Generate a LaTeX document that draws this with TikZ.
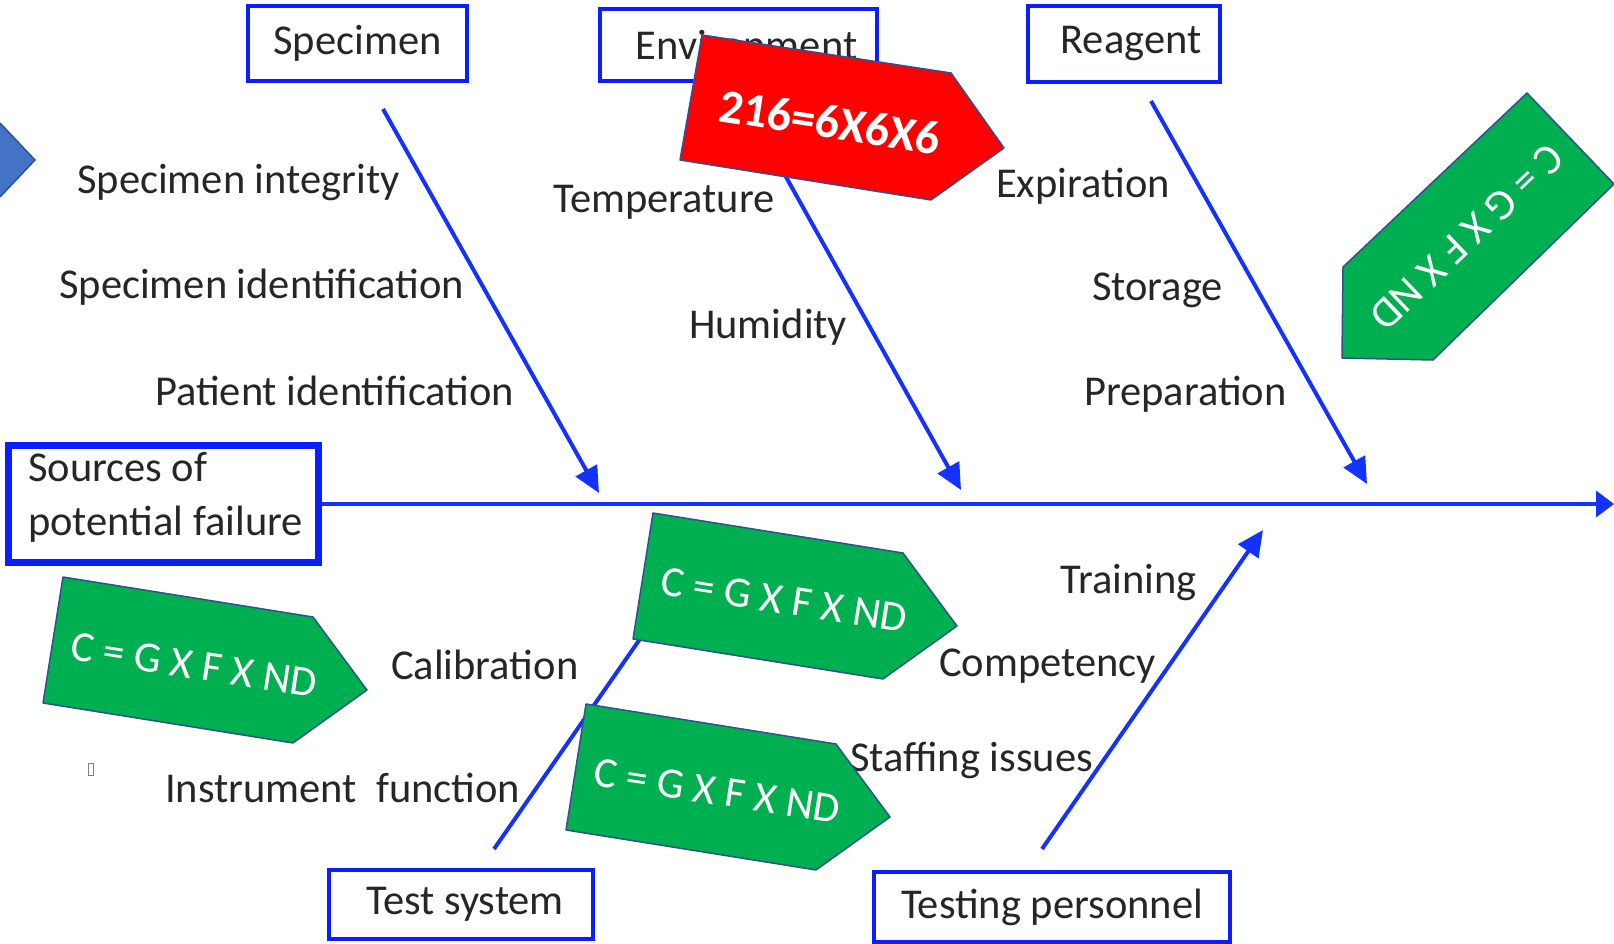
\documentclass[tikz,border=0pt]{standalone}
\usepackage{fontspec}
\setmainfont{Carlito}
\usetikzlibrary{arrows.meta}
\definecolor{boxblue}{HTML}{0A1EFF}
\definecolor{lineblue}{HTML}{1432FF}
\definecolor{tagedge}{HTML}{2F528F}
\definecolor{taggreen}{HTML}{00B050}
\definecolor{tagred}{HTML}{FF0000}
\definecolor{tipblue}{HTML}{4472C4}
\definecolor{ink}{HTML}{262626}

\begin{document}
\begin{tikzpicture}[
    x=1pt, y=-1pt,
    every node/.style={font=\fontsize{42.5}{54}\selectfont, text=ink},
    catbox/.style={draw=boxblue, line width=4pt, inner sep=0pt},
    cause/.style={anchor=west, inner sep=0pt, yshift=-3pt},
    bone/.style={draw=lineblue, line width=4pt, -{Triangle[length=26pt, width=24pt]}},
    tag/.style={fill=taggreen, draw=tagedge, line width=1.5pt, line join=round},
    tagtext/.style={text=white, inner sep=0pt, font=\fontsize{43}{50}\selectfont}
]
\useasboundingbox (0,0) rectangle (1614,944);

% Head box
\node[catbox, line width=7pt, minimum width=310pt, minimum height=117pt] (src) at (163.5,504) {};
\node[align=left, inner sep=0pt, anchor=west] (srctext) at (28,497) {Sources of\\potential failure};

% Category boxes
\node[catbox, minimum width=219pt, minimum height=75pt] (specimen) at (357.5,43.5) {Specimen};
\node[catbox, minimum width=277pt, minimum height=72pt, text depth=0pt] (environment) at (738.5,45) {\hspace*{16pt}Environment};
\node[catbox, minimum width=192pt, minimum height=76pt] (reagent) at (1124,44) {\hspace*{14pt}Reagent};
\node[catbox, minimum width=264pt, minimum height=69pt] (testsys) at (461,904.5) {\hspace*{8pt}Test system};
\node[catbox, minimum width=356pt, minimum height=70pt] (personnel) at (1052,907) {Testing personnel};

% Causes
\node[cause] (sp1) at (77,180) {Specimen integrity};
\node[cause] (sp2) at (59,284) {Specimen identification};
\node[cause] (sp3) at (155,388) {Patient identification};
\node[cause] (en1) at (553,199) {Temperature};
\node[cause] (en2) at (689,324) {Humidity};
\node[cause] (re1) at (996,183) {Expiration};
\node[cause] (re2) at (1092,287) {Storage};
\node[cause] (re3) at (1084,391) {Preparation};
\node[cause] (ts1) at (391,662) {Calibration};
\node[cause] (ts2) at (165,785) {Instrument\ \ function};
\node[cause] (tp1) at (1060,580) {Training};
\node[cause] (tp2) at (939,663) {Competency};
\node[cause] (tp3) at (850,757) {Staffing issues};

% Bones
\coordinate (spineend) at (1614,504);
\coordinate (spA) at (383,109);   \coordinate (spB) at (599,493);
\coordinate (enA) at (748,109);   \coordinate (enB) at (961,490);
\coordinate (reA) at (1151,101);  \coordinate (reB) at (1367,484);
\coordinate (tsA) at (494,849);   \coordinate (tsB) at (715,531);
\coordinate (tpA) at (1042,849);  \coordinate (tpB) at (1263,530);
\draw[bone, -{Triangle[length=18pt, width=26pt]}] (src.east) -- (spineend);
\draw[bone] (spA) -- (spB);
\draw[bone] (enA) -- (enB);
\draw[bone] (reA) -- (reB);
\draw[bone] (tsA) -- (tsB);
\draw[bone] (tpA) -- (tpB);

% Stray glyph box
\draw[gray, line width=0.8pt] (88,763) rectangle (93,775);

% Tags
\draw[fill=tipblue, draw=tagedge, line width=1.5pt] (0,123) -- (35,160) -- (0,197);
\draw[tag, fill=tagred] (702,35) -- (951,73) -- (1004,148) -- (931,200) -- (680,160) -- cycle;
\node[tagtext, rotate=-8.7, font=\bfseries\fontsize{48}{56}\selectfont] (redtag) at (830,122) {216=6X6X6};

\draw[tag, shift={(63,577)}] (0,0) -- (250,40) -- (304,113) -- (230,166) -- (-20,126) -- cycle;
\node[tagtext, rotate=-8.7] (tagA) at (194,665) {C = G X F X ND};
\draw[tag, shift={(653,513)}] (0,0) -- (250,40) -- (304,113) -- (230,166) -- (-20,126) -- cycle;
\node[tagtext, rotate=-8.7] (tagB) at (784,600) {C = G X F X ND};
\draw[tag, shift={(586,704)}] (0,0) -- (250,40) -- (304,113) -- (230,166) -- (-20,126) -- cycle;
\node[tagtext, rotate=-8.7] (tagC) at (717,791) {C = G X F X ND};

\draw[tag] (1527,93) -- (1614,184) -- (1433,360) -- (1342,358) -- (1343,267) -- cycle;
\node[tagtext, rotate=-136.3] (tagD) at (1467,237) {C = G X F X ND};

\end{tikzpicture}
\end{document}
